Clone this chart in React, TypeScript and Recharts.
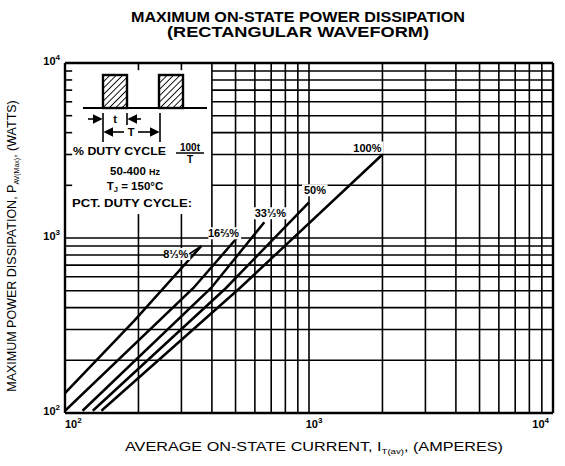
import React from 'react';
import { LineChart, Line, XAxis, YAxis, ReferenceLine, ReferenceDot } from 'recharts';

// Axis ticks (log decades)
const xTicks = [100, 1000, 10000];
const yTicks = [100, 1000, 10000];
const tickExp: Record<number, string> = { 100: '2', 1000: '3', 10000: '4' };

// Grid lines
const xGridFull = [400, 500, 600, 700, 800, 900, 1000, 2000, 3000, 4000, 5000, 6000, 7000, 8000, 9000];
const xGridPartial = [200, 300];
const yGridFull = [200, 300, 400, 500, 600, 700, 800, 900, 1000];
const yGridPartial = [2000, 3000, 4000, 5000, 6000, 7000, 8000, 9000];
const insetRightX = 400;
const insetBottomY = 1370;

// Curves: average current (A) vs max power dissipation (W)
const dutyLabels = ['8⅓%', '16⅔%', '33⅓%', '50%', '100%'];
const current8 = [100, 192, 362];
const power8 = [130, 336, 900];
const current16 = [100, 336, 522];
const power16 = [103, 518, 1050];
const current33 = [118, 397, 656];
const power33 = [103, 518, 1230];
const current50 = [130, 457, 1000];
const power50 = [103, 518, 1600];
const current100 = [141, 521, 2000];
const power100 = [103, 518, 3000];

const currents = [current8, current16, current33, current50, current100];
const powers = [power8, power16, power33, power50, power100];
const series = currents.map((c, s) => c.map((v, k) => ({ i: v, p: powers[s][k] })));

const labelSpecs = [
  { dx: -13, dy: 12, anchor: 'end', lead: true },
  { dx: -1, dy: 3, anchor: 'end', lead: false },
  { dx: 6, dy: -5, anchor: 'middle', lead: false },
  { dx: -5, dy: -8, anchor: 'start', lead: false },
  { dx: -1, dy: -3, anchor: 'end', lead: false },
];

const FONT = '"Liberation Sans", Arial, sans-serif';

function renderCurveLabel(text: string, spec: any) {
  return (props: any) => {
    const x = props.cx;
    const y = props.cy;
    if (x == null || y == null) return <g />;
    const tx = x + spec.dx;
    const ty = y + spec.dy;
    const w = text.length * 7.2;
    let left = tx;
    if (spec.anchor === 'end') left = tx - w;
    else if (spec.anchor === 'middle') left = tx - w / 2;
    return (
      <g>
        <rect x={left - 2} y={ty - 10} width={w + 4} height={12} fill="#fff" />
        {spec.lead && <line x1={tx + 1} y1={ty - 4} x2={x} y2={y} stroke="#000" strokeWidth={1.6} />}
        <text x={tx} y={ty} textAnchor={spec.anchor} fontFamily={FONT} fontWeight="bold" fontSize={11} fill="#000">
          {text}
        </text>
      </g>
    );
  };
}

const XTick = (props: any) => {
  const { x, y, payload, index } = props;
  const anchor = index === 0 ? 'start' : index === 2 ? 'end' : 'middle';
  const xx = index === 1 ? x + 5 : index === 2 ? x + 4 : x;
  return (
    <text x={xx} y={y + 13} textAnchor={anchor} fontFamily={FONT} fontWeight="bold" fontSize={11} fill="#000">
      10<tspan dy={-5} fontSize={8}>{tickExp[payload.value]}</tspan>
    </text>
  );
};

const YTick = (props: any) => {
  const { x, y, payload } = props;
  return (
    <text x={x} y={y + 2} textAnchor="end" fontFamily={FONT} fontWeight="bold" fontSize={11} fill="#000">
      10<tspan dy={-5} fontSize={8}>{tickExp[payload.value]}</tspan>
    </text>
  );
};

const G = '#000';

export default function App() {
  return (
    <div style={{ position: 'absolute', left: 0, top: 0, width: 565, height: 466, background: '#fff' }}>
      <LineChart width={565} height={466} margin={{ top: 63, right: 12, bottom: 23, left: 25 }}>
        <XAxis
          type="number"
          dataKey="i"
          scale="log"
          domain={[100, 10000]}
          ticks={xTicks}
          allowDataOverflow
          axisLine={false}
          tickLine={false}
          tickSize={0}
          height={30}
          tick={<XTick />}
        />
        <YAxis
          type="number"
          dataKey="p"
          scale="log"
          domain={[100, 10000]}
          ticks={yTicks}
          allowDataOverflow
          axisLine={false}
          tickLine={false}
          tickSize={0}
          tickMargin={5}
          width={40}
          tick={<YTick />}
        />
        {xGridFull.map((v) => (
          <ReferenceLine key={'xg' + v} x={v} stroke={G} strokeWidth={1.6} />
        ))}
        {xGridPartial.map((v) => (
          <ReferenceLine key={'xp' + v} segment={[{ x: v, y: 100 }, { x: v, y: insetBottomY }]} stroke={G} strokeWidth={1.6} />
        ))}
        {xGridPartial.map((v) => (
          <ReferenceLine key={'xt' + v} segment={[{ x: v, y: 9100 }, { x: v, y: 10000 }]} stroke={G} strokeWidth={1.6} />
        ))}
        {yGridFull.map((v) => (
          <ReferenceLine key={'yg' + v} y={v} stroke={G} strokeWidth={1.6} />
        ))}
        {yGridPartial.map((v) => (
          <ReferenceLine key={'yp' + v} segment={[{ x: insetRightX, y: v }, { x: 10000, y: v }]} stroke={G} strokeWidth={1.6} />
        ))}
        {yGridPartial.map((v) => (
          <ReferenceLine key={'yt' + v} segment={[{ x: 100, y: v }, { x: 107, y: v }]} stroke={G} strokeWidth={1.6} />
        ))}
        <ReferenceLine x={100} stroke={G} strokeWidth={2.4} />
        <ReferenceLine x={10000} stroke={G} strokeWidth={2.4} />
        <ReferenceLine y={100} stroke={G} strokeWidth={2.4} />
        <ReferenceLine y={10000} stroke={G} strokeWidth={2.4} />
        {series.map((d, k) => (
          <Line
            key={dutyLabels[k]}
            data={d}
            dataKey="p"
            type="linear"
            stroke="#000"
            strokeWidth={2.5}
            dot={false}
            activeDot={false}
            isAnimationActive={false}
          />
        ))}
        {series.map((d, k) => (
          <ReferenceDot
            key={'lbl' + k}
            x={d[d.length - 1].i}
            y={d[d.length - 1].p}
            r={0}
            shape={renderCurveLabel(dutyLabels[k], labelSpecs[k])}
          />
        ))}
      </LineChart>
      <svg width={565} height={466} style={{ position: 'absolute', left: 0, top: 0, pointerEvents: 'none' }}>
        <defs>
          <pattern id="hatch" width="4.5" height="4.5" patternUnits="userSpaceOnUse" patternTransform="rotate(45)">
            <line x1="0" y1="0" x2="0" y2="4.5" stroke="#000" strokeWidth="1.8" />
          </pattern>
          <marker id="arr" markerWidth="6" markerHeight="6" refX="5" refY="3" orient="auto">
            <path d="M0,0 L6,3 L0,6 z" fill="#000" />
          </marker>
        </defs>
        {/* Title */}
        <text x={298} y={22} textAnchor="middle" fontFamily={FONT} fontWeight="bold" fontSize={14.5} fill="#000"
          textLength={334} lengthAdjust="spacingAndGlyphs">
          MAXIMUM ON-STATE POWER DISSIPATION
        </text>
        <text x={298} y={37} textAnchor="middle" fontFamily={FONT} fontWeight="bold" fontSize={14.5} fill="#000"
          textLength={262} lengthAdjust="spacingAndGlyphs">
          (RECTANGULAR WAVEFORM)
        </text>
        {/* Axis titles */}
        <text x={314} y={451} textAnchor="middle" fontFamily={FONT} fontSize={13.5} fill="#000"
          textLength={378} lengthAdjust="spacingAndGlyphs">
          AVERAGE ON-STATE CURRENT, I<tspan dy={3} fontSize={8}>T(av)</tspan><tspan dy={-3}>, (AMPERES)</tspan>
        </text>
        <text
          x={0}
          y={0}
          transform="translate(16,246) rotate(-90)"
          textAnchor="middle"
          fontFamily={FONT}
          fontSize={12.5}
          fill="#000"
        >
          MAXIMUM POWER DISSIPATION, P<tspan dy={3} fontSize={7}>AV(Max)</tspan><tspan dy={-3}>, (WATTS)</tspan>
        </text>
        {/* Inset waveform */}
        <rect x={103} y={75} width={24} height={33} fill="url(#hatch)" stroke="#000" strokeWidth={2.4} />
        <rect x={159} y={75} width={24} height={33} fill="url(#hatch)" stroke="#000" strokeWidth={2.4} />
        <line x1={83} y1={108} x2={207} y2={108} stroke="#000" strokeWidth={2.2} />
        <line x1={103} y1={113} x2={103} y2={142} stroke="#000" strokeWidth={1.6} />
        <line x1={127} y1={113} x2={127} y2={125} stroke="#000" strokeWidth={1.6} />
        <line x1={160} y1={113} x2={160} y2={142} stroke="#000" strokeWidth={1.6} />
        <line x1={88} y1={119} x2={101} y2={119} stroke="#000" strokeWidth={1.6} markerEnd="url(#arr)" />
        <line x1={141} y1={119} x2={129} y2={119} stroke="#000" strokeWidth={1.6} markerEnd="url(#arr)" />
        <text x={115} y={123} textAnchor="middle" fontFamily={FONT} fontWeight="bold" fontSize={11} fill="#000">t</text>
        <line x1={124} y1={132} x2={105} y2={132} stroke="#000" strokeWidth={1.6} markerEnd="url(#arr)" />
        <line x1={138} y1={132} x2={158} y2={132} stroke="#000" strokeWidth={1.6} markerEnd="url(#arr)" />
        <text x={131} y={136} textAnchor="middle" fontFamily={FONT} fontWeight="bold" fontSize={11} fill="#000">T</text>
        <text x={73} y={155} fontFamily={FONT} fontWeight="bold" fontSize={11.5} fill="#000"
          textLength={93} lengthAdjust="spacingAndGlyphs">% DUTY CYCLE</text>
        <text x={190} y={151} textAnchor="middle" fontFamily={FONT} fontWeight="bold" fontSize={10} fill="#000">100t</text>
        <line x1={176} y1={153} x2={204} y2={153} stroke="#000" strokeWidth={1.5} />
        <text x={190} y={163} textAnchor="middle" fontFamily={FONT} fontWeight="bold" fontSize={10} fill="#000">T</text>
        <text x={135} y={175} textAnchor="middle" fontFamily={FONT} fontWeight="bold" fontSize={11.5} fill="#000">
          50-400 <tspan fontSize={9}>Hz</tspan>
        </text>
        <text x={135} y={190} textAnchor="middle" fontFamily={FONT} fontWeight="bold" fontSize={11.5} fill="#000">
          T<tspan dy={2} fontSize={7.5}>J</tspan><tspan dy={-2}> = 150°C</tspan>
        </text>
        <text x={72} y={207} fontFamily={FONT} fontWeight="bold" fontSize={11.5} fill="#000"
          textLength={120} lengthAdjust="spacingAndGlyphs">PCT. DUTY CYCLE:</text>
      </svg>
    </div>
  );
}
